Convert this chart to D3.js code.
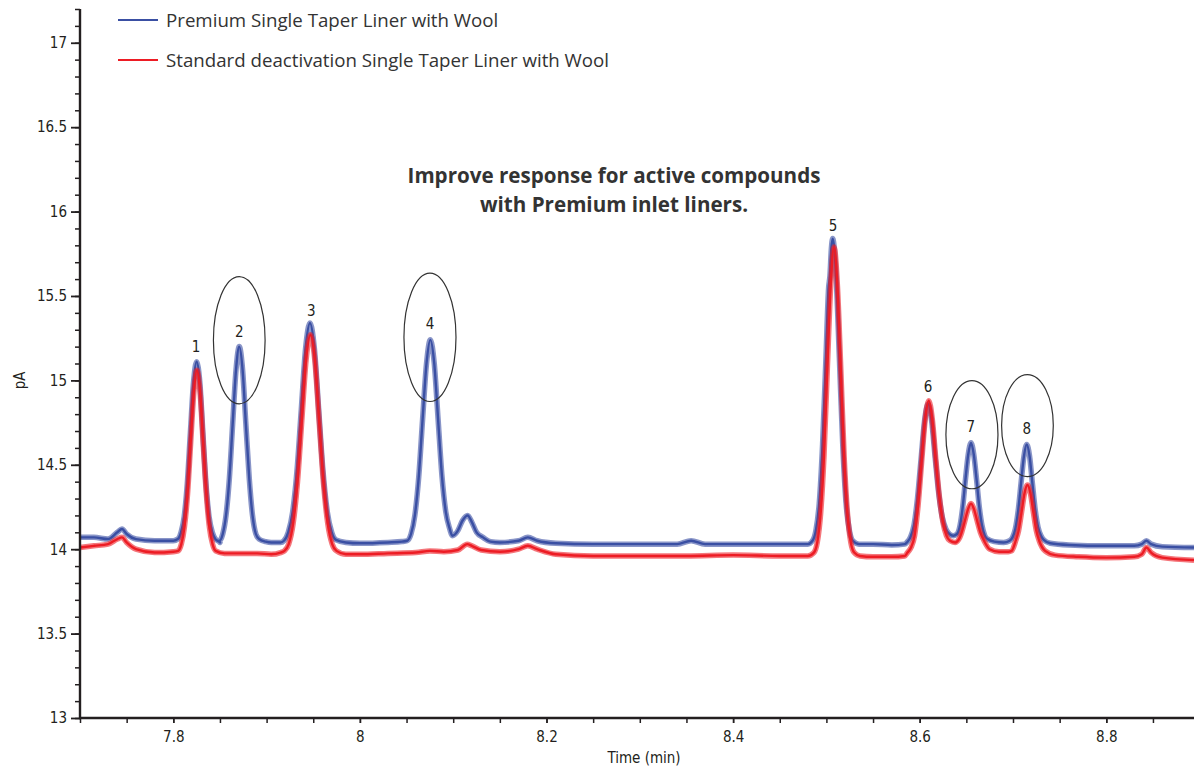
<!DOCTYPE html>
<html>
<head>
<meta charset="utf-8">
<script src="https://cdn.jsdelivr.net/npm/d3@7"></script>
<style>
  body { margin: 0; background: #fff; }
  .num { font-family: "Liberation Sans Narrow", "DejaVu Sans Condensed", sans-serif; fill: #231f20; }
  .txt { font-family: "Open Sans", "Noto Sans", sans-serif; fill: #333; }
</style>
</head>
<body>
<div id="chart"></div>
<script>
// series names
const seriesNames = ['Premium Single Taper Liner with Wool', 'Standard deactivation Single Taper Liner with Wool'];

// premium liner trace, [time (min), pA]
const premiumTrace = [
  [7.700, 14.07], [7.715, 14.07], [7.730, 14.06], [7.740, 14.10], [7.745, 14.12], [7.750, 14.09], [7.760, 14.06], [7.780, 14.05], [7.800, 14.05],
  [7.8049, 14.06], [7.8083, 14.10], [7.8116, 14.19], [7.815, 14.39], [7.8183, 14.69], [7.8217, 14.99], [7.825, 15.11],
  [7.8284, 14.99], [7.8317, 14.69], [7.835, 14.39], [7.8384, 14.19], [7.8418, 14.10], [7.8451, 14.06], [7.850, 14.04],
  [7.8494, 14.05], [7.853, 14.09], [7.8565, 14.20], [7.8601, 14.42], [7.8636, 14.74], [7.8672, 15.06], [7.8707, 15.20],
  [7.8743, 15.06], [7.8778, 14.74], [7.8814, 14.42], [7.8849, 14.20], [7.8885, 14.09], [7.892, 14.06], [7.899, 14.045],
  [7.905, 14.04], [7.915, 14.04],
  [7.9186, 14.05], [7.9232, 14.10], [7.9279, 14.22], [7.9325, 14.46], [7.9372, 14.83], [7.9418, 15.19], [7.9465, 15.34],
  [7.9512, 15.19], [7.9558, 14.83], [7.9605, 14.46], [7.9651, 14.22], [7.9698, 14.10], [7.9744, 14.055], [7.985, 14.04],
  [8.000, 14.035], [8.030, 14.04], [8.045, 14.045],
  [8.0506, 14.05], [8.0548, 14.09], [8.0589, 14.20], [8.0631, 14.43], [8.0672, 14.77], [8.0714, 15.10], [8.0755, 15.24],
  [8.0797, 15.10], [8.0838, 14.77], [8.088, 14.43], [8.0921, 14.22], [8.0963, 14.12], [8.0990, 14.08], [8.105, 14.11],
  [8.110, 14.17], [8.1155, 14.20], [8.120, 14.16], [8.125, 14.10], [8.132, 14.07], [8.140, 14.045],
  [8.150, 14.04], [8.170, 14.05], [8.180, 14.07], [8.190, 14.05], [8.210, 14.035], [8.250, 14.03], [8.300, 14.03],
  [8.340, 14.03], [8.355, 14.05], [8.370, 14.03], [8.400, 14.03], [8.450, 14.03], [8.480, 14.03],
  [8.4851, 14.05], [8.4887, 14.11], [8.4923, 14.27], [8.4959, 14.62], [8.4995, 15.13], [8.5024, 15.55], [8.5038, 15.62],
  [8.5053, 15.78], [8.5067, 15.84], [8.5103, 15.63], [8.5139, 15.13], [8.5175, 14.62], [8.5211, 14.27], [8.5247, 14.11],
  [8.5283, 14.05], [8.535, 14.03], [8.550, 14.03], [8.570, 14.025], [8.584, 14.03],
  [8.5862, 14.04], [8.590, 14.07], [8.5938, 14.14], [8.5976, 14.30], [8.6014, 14.53], [8.6052, 14.76], [8.609, 14.86],
  [8.6128, 14.76], [8.6166, 14.54], [8.6204, 14.33], [8.6242, 14.19], [8.628, 14.12], [8.6318, 14.09], [8.636, 14.08],
  [8.640, 14.09], [8.6432, 14.14], [8.6461, 14.25], [8.649, 14.41], [8.652, 14.56], [8.655, 14.63], [8.658, 14.56],
  [8.661, 14.41], [8.6639, 14.25], [8.6668, 14.14], [8.6698, 14.08], [8.6727, 14.06], [8.680, 14.045], [8.690, 14.04],
  [8.6964, 14.05], [8.6995, 14.07], [8.7025, 14.12], [8.7056, 14.23], [8.7086, 14.39], [8.7117, 14.55], [8.7147, 14.62],
  [8.7178, 14.55], [8.7208, 14.39], [8.7239, 14.23], [8.7269, 14.13], [8.730, 14.08], [8.733, 14.055], [8.740, 14.035],
  [8.760, 14.025], [8.800, 14.02], [8.830, 14.02], [8.838, 14.03], [8.843, 14.05], [8.848, 14.03], [8.860, 14.015], [8.894, 14.01]
];

// standard liner trace
const standardTrace = [
  [7.700, 14.01], [7.715, 14.02], [7.730, 14.03], [7.740, 14.06], [7.745, 14.07], [7.750, 14.04], [7.760, 14.00], [7.780, 13.98], [7.800, 13.985],
  [7.8052, 13.99], [7.8086, 14.03], [7.8119, 14.13], [7.8153, 14.33], [7.8186, 14.63], [7.822, 14.93], [7.8253, 15.06],
  [7.8287, 14.93], [7.832, 14.63], [7.8354, 14.33], [7.8387, 14.13], [7.8421, 14.03], [7.8454, 13.99], [7.855, 13.975],
  [7.870, 13.975], [7.890, 13.975], [7.905, 13.97], [7.915, 13.98],
  [7.9191, 13.99], [7.9237, 14.03], [7.9284, 14.15], [7.933, 14.39], [7.9377, 14.76], [7.9423, 15.12], [7.947, 15.27],
  [7.9517, 15.12], [7.9563, 14.76], [7.961, 14.39], [7.9656, 14.15], [7.9703, 14.03], [7.9749, 13.99], [7.985, 13.97],
  [8.000, 13.97], [8.030, 13.975], [8.060, 13.98], [8.075, 13.99], [8.090, 13.985], [8.105, 13.995], [8.115, 14.03],
  [8.120, 14.02], [8.130, 13.995], [8.150, 13.985], [8.170, 14.00], [8.180, 14.02], [8.190, 14.00], [8.210, 13.97],
  [8.250, 13.96], [8.300, 13.96], [8.350, 13.96], [8.400, 13.965], [8.450, 13.96], [8.480, 13.96],
  [8.4866, 13.98], [8.4902, 14.04], [8.4938, 14.21], [8.4974, 14.55], [8.501, 15.07], [8.5046, 15.56], [8.5082, 15.79],
  [8.5118, 15.56], [8.5154, 15.07], [8.519, 14.55], [8.5226, 14.21], [8.5262, 14.04], [8.5298, 13.98], [8.536, 13.96],
  [8.550, 13.955], [8.570, 13.955], [8.584, 13.96],
  [8.5869, 13.98], [8.5907, 14.01], [8.5945, 14.08], [8.5983, 14.26], [8.6021, 14.52], [8.6059, 14.77], [8.6097, 14.88],
  [8.6135, 14.77], [8.6173, 14.53], [8.6211, 14.31], [8.6249, 14.16], [8.6287, 14.08], [8.6325, 14.05], [8.638, 14.04],
  [8.643, 14.07], [8.645, 14.10], [8.6485, 14.17], [8.652, 14.24], [8.655, 14.27], [8.658, 14.24], [8.6615, 14.17],
  [8.665, 14.10], [8.669, 14.05], [8.675, 14.00], [8.685, 13.985], [8.695, 13.985],
  [8.6985, 13.99], [8.7029, 14.05], [8.706, 14.11], [8.7092, 14.22], [8.7123, 14.33], [8.7155, 14.38], [8.7187, 14.33],
  [8.7218, 14.22], [8.725, 14.11], [8.7281, 14.05], [8.7344, 13.99], [8.745, 13.965],
  [8.770, 13.955], [8.800, 13.95], [8.830, 13.955], [8.838, 13.97], [8.843, 14.01], [8.848, 13.98], [8.860, 13.95], [8.894, 13.935]
];

// peak numbers: [label, time, pA]
const peakLabels = [
  ['1', 7.8243, 15.20], ['2', 7.8707, 15.29], ['3', 7.9479, 15.41], ['4', 8.0751, 15.335],
  ['5', 8.5072, 15.915], ['6', 8.609, 14.96], ['7', 8.6549, 14.725], ['8', 8.7149, 14.715]
];

// circled peaks: [time, pA, half width (min), half height (pA)]
const circled = [
  [7.8707, 15.238, 0.0277, 0.377],
  [8.0751, 15.255, 0.0279, 0.380],
  [8.6560, 14.678, 0.0279, 0.320],
  [8.7155, 14.732, 0.0277, 0.302]
];

const xTicks = [7.8, 8, 8.2, 8.4, 8.6, 8.8];
const yTicks = [13, 13.5, 14, 14.5, 15, 15.5, 16, 16.5, 17];
const titleLines = ['Improve response for active compounds', 'with Premium inlet liners.'];

const W = 1194, H = 768;
const margin = { top: 9, right: 0, bottom: 50, left: 80 };

const svg = d3.select('#chart').append('svg')
  .attr('width', W)
  .attr('height', H);

const x = d3.scaleLinear().domain([7.7, 8.894]).range([margin.left, W - margin.right]);
const y = d3.scaleLinear().domain([13, 17.2]).range([H - margin.bottom, margin.top]);

const colors = ['#3a4fa3', '#ed1c24'];

// traces: a wide band for the detector noise, then the line itself
const line = d3.line()
  .x(d => x(d[0]))
  .y(d => y(d[1]))
  .curve(d3.curveMonotoneX);

[premiumTrace, standardTrace].forEach((trace, i) => {
  svg.append('path')
    .datum(trace)
    .attr('d', line)
    .attr('fill', 'none')
    .attr('stroke', colors[i])
    .attr('stroke-opacity', 0.6)
    .attr('stroke-width', 5.5)
    .attr('stroke-linejoin', 'round');
  svg.append('path')
    .datum(trace)
    .attr('d', line)
    .attr('fill', 'none')
    .attr('stroke', colors[i])
    .attr('stroke-width', 2.4)
    .attr('stroke-linejoin', 'round');
});

// ellipses around the active compounds
svg.selectAll('.circled')
  .data(circled)
  .enter()
  .append('ellipse')
  .attr('class', 'circled')
  .attr('cx', d => x(d[0]))
  .attr('cy', d => y(d[1]))
  .attr('rx', d => x(d[0] + d[2]) - x(d[0]))
  .attr('ry', d => y(d[1] - d[3]) - y(d[1]))
  .attr('fill', 'none')
  .attr('stroke', '#333')
  .attr('stroke-width', 1.2);

svg.selectAll('.peak-label')
  .data(peakLabels)
  .enter()
  .append('text')
  .attr('class', 'peak-label num')
  .attr('x', d => x(d[1]))
  .attr('y', d => y(d[2]))
  .attr('dy', '0.35em')
  .style('text-anchor', 'middle')
  .style('font-size', '15px')
  .text(d => d[0]);

// axes
const axisColor = '#231f20';
const bottomY = y(13);

const xMinor = d3.range(7.7, 8.894, 0.05);
svg.append('g')
  .attr('transform', `translate(0, ${bottomY})`)
  .call(d3.axisBottom(x).tickValues(xMinor).tickSize(5).tickFormat(''))
  .call(g => g.select('.domain').remove())
  .call(g => g.selectAll('line').attr('stroke', axisColor).attr('stroke-width', 1.5));

svg.append('g')
  .attr('transform', `translate(0, ${bottomY})`)
  .call(d3.axisBottom(x).tickValues(xTicks).tickSize(5).tickPadding(8).tickFormat(d3.format('')))
  .call(g => g.select('.domain').remove())
  .call(g => g.selectAll('line').attr('stroke', axisColor).attr('stroke-width', 1.5))
  .call(g => g.selectAll('text').attr('class', 'num').style('font-size', '15px'));

const yMinor = d3.range(13, 17.21, 0.1);
svg.append('g')
  .attr('transform', `translate(${margin.left}, 0)`)
  .call(d3.axisLeft(y).tickValues(yMinor).tickSize(5).tickFormat(''))
  .call(g => g.select('.domain').remove())
  .call(g => g.selectAll('line').attr('stroke', axisColor).attr('stroke-width', 1.5));

svg.append('g')
  .attr('transform', `translate(${margin.left}, 0)`)
  .call(d3.axisLeft(y).tickValues(yTicks).tickSize(9).tickPadding(4).tickFormat(d3.format('')))
  .call(g => g.select('.domain').remove())
  .call(g => g.selectAll('line').attr('stroke', axisColor).attr('stroke-width', 1.8))
  .call(g => g.selectAll('text').attr('class', 'num').style('font-size', '15px'));

svg.append('line')
  .attr('x1', margin.left).attr('x2', margin.left)
  .attr('y1', y(17.2)).attr('y2', bottomY + 1)
  .attr('stroke', axisColor).attr('stroke-width', 2.4);
svg.append('line')
  .attr('x1', margin.left - 1).attr('x2', W)
  .attr('y1', bottomY).attr('y2', bottomY)
  .attr('stroke', axisColor).attr('stroke-width', 2.4);

svg.append('text')
  .attr('class', 'num')
  .attr('x', 644)
  .attr('y', 763)
  .style('text-anchor', 'middle')
  .style('font-size', '15px')
  .text('Time (min)');

svg.append('text')
  .attr('class', 'num')
  .attr('transform', `translate(25, ${y(15.0)}) rotate(-90)`)
  .style('text-anchor', 'middle')
  .style('font-size', '15px')
  .text('pA');

// legend
const legend = svg.append('g').attr('transform', 'translate(118, 20)');
seriesNames.forEach((name, i) => {
  legend.append('line')
    .attr('x1', 0).attr('x2', 40)
    .attr('y1', i * 40).attr('y2', i * 40)
    .attr('stroke', colors[i])
    .attr('stroke-width', 2);
  legend.append('text')
    .attr('class', 'txt')
    .attr('x', 48)
    .attr('y', i * 40)
    .attr('dy', '0.35em')
    .style('font-size', '18.7px')
    .text(name);
});

// title
svg.append('text')
  .attr('class', 'txt')
  .attr('x', 614)
  .attr('y', 183)
  .style('text-anchor', 'middle')
  .style('font-size', '20.6px')
  .style('font-weight', 'bold')
  .selectAll('tspan')
  .data(titleLines)
  .enter()
  .append('tspan')
  .attr('x', 614)
  .attr('dy', (d, i) => i === 0 ? 0 : 29)
  .text(d => d);
</script>
</body>
</html>
